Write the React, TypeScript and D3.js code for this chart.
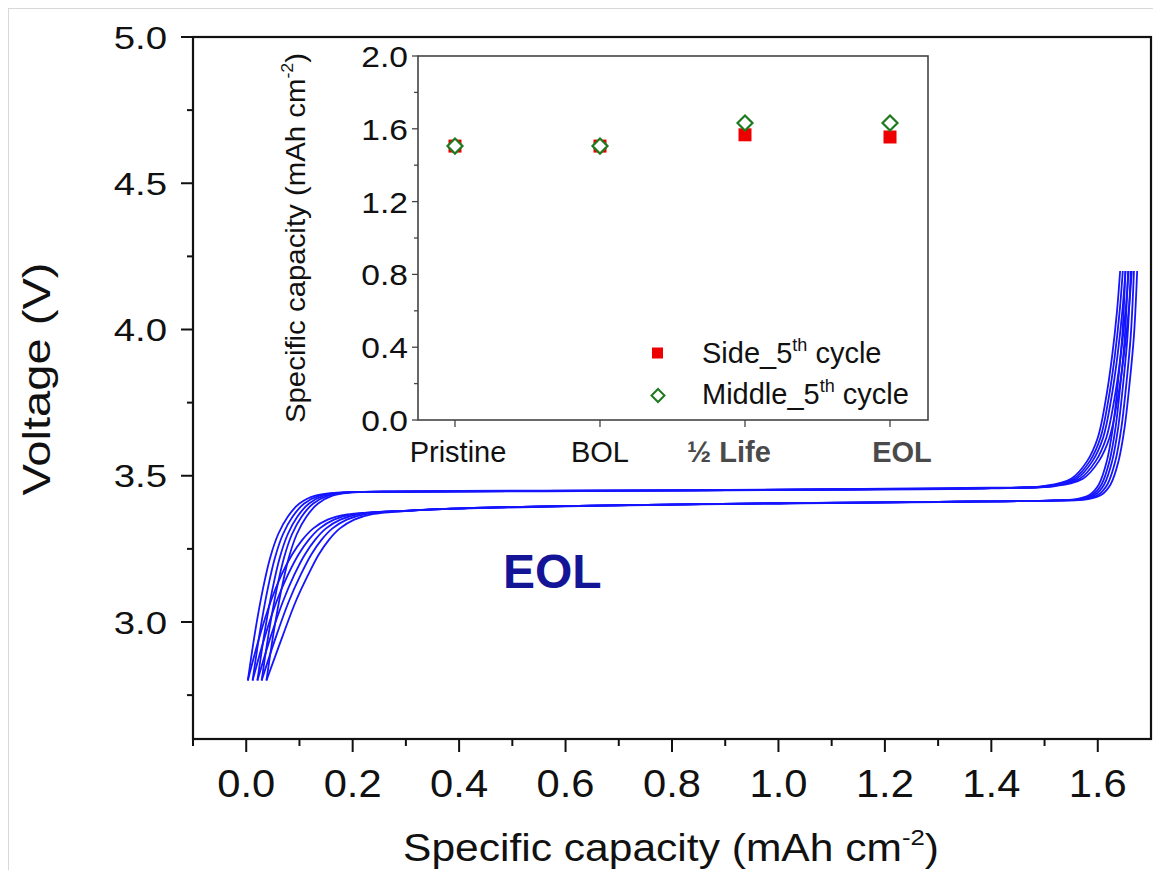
import React from "react";
import * as d3 from "d3";

// ---------- main chart data ----------
const xMajorTicks = [0, 0.2, 0.4, 0.6, 0.8, 1.0, 1.2, 1.4, 1.6];
const xMinorTicks = [-0.1, 0.1, 0.3, 0.5, 0.7, 0.9, 1.1, 1.3, 1.5];
const yMajorTicks = [3.0, 3.5, 4.0, 4.5, 5.0];
const yMinorTicks = [2.75, 3.25, 3.75, 4.25, 4.75];

type Pt = [number, number];

const charge1: Pt[] = [[0.003,2.80],[0.017,2.97],[0.031,3.11],[0.045,3.22],[0.060,3.30],[0.078,3.36],[0.100,3.405],[0.130,3.432],[0.170,3.442],[0.300,3.445],[0.700,3.448],[1.100,3.452],[1.400,3.457],[1.500,3.465],[1.550,3.490],[1.580,3.550],[1.600,3.630],[1.615,3.760],[1.627,3.910],[1.636,4.060],[1.642,4.200]];
const charge2: Pt[] = [[0.012,2.80],[0.026,2.97],[0.040,3.11],[0.054,3.22],[0.069,3.30],[0.087,3.36],[0.109,3.405],[0.138,3.432],[0.176,3.442],[0.300,3.446],[0.700,3.449],[1.100,3.453],[1.400,3.458],[1.505,3.465],[1.555,3.490],[1.585,3.550],[1.605,3.630],[1.620,3.760],[1.632,3.910],[1.641,4.060],[1.647,4.200]];
const charge3: Pt[] = [[0.021,2.80],[0.035,2.97],[0.049,3.11],[0.063,3.22],[0.078,3.30],[0.096,3.36],[0.118,3.405],[0.146,3.432],[0.182,3.442],[0.300,3.446],[0.700,3.449],[1.100,3.453],[1.400,3.458],[1.510,3.465],[1.560,3.490],[1.590,3.550],[1.610,3.630],[1.625,3.760],[1.637,3.910],[1.646,4.060],[1.652,4.200]];
const charge4: Pt[] = [[0.029,2.80],[0.043,2.97],[0.057,3.11],[0.071,3.22],[0.086,3.30],[0.104,3.36],[0.126,3.405],[0.154,3.432],[0.188,3.442],[0.300,3.446],[0.700,3.449],[1.100,3.453],[1.400,3.458],[1.515,3.465],[1.566,3.490],[1.596,3.550],[1.616,3.630],[1.631,3.760],[1.643,3.910],[1.652,4.060],[1.658,4.200]];
const charge5: Pt[] = [[0.038,2.80],[0.052,2.97],[0.066,3.11],[0.080,3.22],[0.095,3.30],[0.113,3.36],[0.135,3.405],[0.162,3.432],[0.195,3.442],[0.300,3.447],[0.700,3.450],[1.100,3.454],[1.400,3.459],[1.520,3.465],[1.572,3.490],[1.602,3.550],[1.622,3.630],[1.637,3.760],[1.649,3.910],[1.658,4.060],[1.664,4.200]];

const discharge1: Pt[] = [[0.003,2.80],[0.025,2.95],[0.046,3.07],[0.066,3.16],[0.086,3.23],[0.105,3.28],[0.126,3.32],[0.153,3.35],[0.190,3.368],[0.300,3.380],[0.450,3.390],[0.650,3.397],[1.000,3.405],[1.300,3.410],[1.500,3.415],[1.560,3.420],[1.585,3.435],[1.602,3.470],[1.617,3.550],[1.628,3.660],[1.638,3.820],[1.646,3.980],[1.652,4.200]];
const discharge2: Pt[] = [[0.012,2.80],[0.035,2.95],[0.057,3.07],[0.078,3.16],[0.098,3.23],[0.117,3.28],[0.138,3.32],[0.165,3.35],[0.200,3.368],[0.300,3.381],[0.450,3.391],[0.650,3.398],[1.000,3.406],[1.300,3.411],[1.505,3.415],[1.565,3.420],[1.590,3.435],[1.607,3.470],[1.622,3.550],[1.633,3.660],[1.643,3.820],[1.651,3.980],[1.657,4.200]];
const discharge3: Pt[] = [[0.021,2.80],[0.046,2.95],[0.069,3.07],[0.090,3.16],[0.110,3.23],[0.129,3.28],[0.150,3.32],[0.177,3.35],[0.210,3.368],[0.305,3.381],[0.450,3.391],[0.650,3.398],[1.000,3.406],[1.300,3.411],[1.510,3.415],[1.570,3.420],[1.595,3.435],[1.612,3.470],[1.627,3.550],[1.638,3.660],[1.648,3.820],[1.656,3.980],[1.662,4.200]];
const discharge4: Pt[] = [[0.029,2.80],[0.056,2.95],[0.080,3.07],[0.102,3.16],[0.122,3.23],[0.141,3.28],[0.162,3.32],[0.189,3.35],[0.222,3.368],[0.310,3.381],[0.450,3.391],[0.650,3.398],[1.000,3.406],[1.300,3.411],[1.515,3.415],[1.576,3.420],[1.601,3.435],[1.618,3.470],[1.633,3.550],[1.644,3.660],[1.654,3.820],[1.662,3.980],[1.668,4.200]];
const discharge5: Pt[] = [[0.038,2.80],[0.068,2.95],[0.093,3.07],[0.116,3.16],[0.136,3.23],[0.155,3.28],[0.176,3.32],[0.203,3.35],[0.235,3.368],[0.315,3.381],[0.450,3.391],[0.650,3.398],[1.000,3.406],[1.300,3.411],[1.520,3.415],[1.582,3.420],[1.607,3.435],[1.624,3.470],[1.639,3.550],[1.650,3.660],[1.660,3.820],[1.668,3.980],[1.674,4.200]];

const allCurves: Pt[][] = [charge1, charge2, charge3, charge4, charge5, discharge1, discharge2, discharge3, discharge4, discharge5];

// ---------- inset data ----------
const insetCategories = ["Pristine", "BOL", "\u00BD Life", "EOL"];
const sideCapacity = [1.505, 1.505, 1.567, 1.555];
const middleCapacity = [1.505, 1.505, 1.632, 1.632];
const insetYMajor = [0, 0.4, 0.8, 1.2, 1.6, 2.0];
const insetYMinor = [0.2, 0.6, 1.0, 1.4, 1.8];

const FONT = "'Liberation Sans', Arial, sans-serif";

export default function App() {
  // main scales
  const x = d3.scaleLinear().domain([-0.1, 1.7]).range([193, 1151]);
  const y = d3.scaleLinear().domain([2.6, 5.0]).range([739, 37]);
  const line = d3
    .line<Pt>()
    .x((d) => x(d[0]))
    .y((d) => y(d[1]))
    .curve(d3.curveCatmullRom.alpha(0.5));

  // inset scales
  const ix = d3.scaleLinear().domain([-0.255, 3.262]).range([418, 928]);
  const iy = d3.scaleLinear().domain([0, 2.0]).range([420, 56]);
  const fmt = d3.format(".1f");
  const labelDx = [3, 0, -16, 12];
  const diamond = (cx: number, cy: number, r: number) =>
    `M${cx},${cy - r}L${cx + r},${cy}L${cx},${cy + r}L${cx - r},${cy}Z`;

  return (
    <svg
      width={1153}
      height={870}
      style={{ position: "absolute", left: 0, top: 0, background: "#fff" }}
      fontFamily={FONT}
    >
      <rect x={0} y={0} width={1153} height={870} fill="#fff" />
      <rect x={8.5} y={8.5} width={1160} height={880} fill="none" stroke="#d8d8d8" strokeWidth={1} />

      {/* curves */}
      <g fill="none" stroke="#1414ff" strokeWidth={1.8}>
        {allCurves.map((c, i) => (
          <path key={i} d={line(c) || ""} />
        ))}
      </g>

      {/* main box */}
      <rect x={193} y={37} width={958} height={702} fill="none" stroke="#111" strokeWidth={2.2} />

      {/* x ticks */}
      <g stroke="#111" strokeWidth={2}>
        {xMajorTicks.map((t) => (
          <line key={"xM" + t} x1={x(t)} x2={x(t)} y1={739} y2={752} />
        ))}
        {xMinorTicks.map((t) => (
          <line key={"xm" + t} x1={x(t)} x2={x(t)} y1={739} y2={746} />
        ))}
        {yMajorTicks.map((t) => (
          <line key={"yM" + t} x1={181} x2={193} y1={y(t)} y2={y(t)} />
        ))}
        {yMinorTicks.map((t) => (
          <line key={"ym" + t} x1={187} x2={193} y1={y(t)} y2={y(t)} />
        ))}
      </g>
      <g fill="#111" fontSize={39}>
        {xMajorTicks.map((t) => (
          <text key={"xl" + t} transform={`translate(${x(t)},797) scale(1.07,1)`} textAnchor="middle">
            {fmt(t)}
          </text>
        ))}
      </g>
      <g fill="#111" fontSize={32}>
        {yMajorTicks.map((t) => (
          <text key={"yl" + t} transform={`translate(167,${y(t) + 11.5}) scale(1.2,1)`} textAnchor="end">
            {fmt(t)}
          </text>
        ))}
      </g>

      {/* axis titles */}
      <text transform="translate(671,861) scale(1.12,1)" textAnchor="middle" fontSize={38} fill="#111">
        Specific capacity (mAh cm
        <tspan fontSize={23} dy={-16}>-2</tspan>
        <tspan dy={16}>)</tspan>
      </text>
      <text transform="translate(50,379) rotate(-90) scale(1.24,1)" textAnchor="middle" fontSize={38} fill="#111">
        Voltage (V)
      </text>

      {/* EOL label */}
      <text x={503} y={588} fontSize={48} fontWeight="bold" fill="#141496">
        EOL
      </text>

      {/* ---------- inset ---------- */}
      <rect x={418} y={56} width={510} height={364} fill="#fff" stroke="#444" strokeWidth={1.6} />
      <g stroke="#444" strokeWidth={1.3}>
        {insetYMajor.map((t) => (
          <line key={"iyM" + t} x1={412} x2={418} y1={iy(t)} y2={iy(t)} />
        ))}
        {insetYMinor.map((t) => (
          <line key={"iym" + t} x1={414} x2={418} y1={iy(t)} y2={iy(t)} />
        ))}
        {insetCategories.map((c, i) => (
          <line key={"ix" + c} x1={ix(i)} x2={ix(i)} y1={420} y2={427} />
        ))}
      </g>
      <g fill="#111" fontSize={30}>
        {insetYMajor.map((t) => (
          <text key={"iyl" + t} transform={`translate(408,${iy(t) + 11}) scale(1.12,1)`} textAnchor="end">
            {fmt(t)}
          </text>
        ))}
      </g>
      <g fontSize={29}>
        {insetCategories.map((c, i) => (
          <text
            key={"icl" + c}
            x={ix(i) + labelDx[i]}
            y={462}
            textAnchor="middle"
            fontWeight={i >= 2 ? "bold" : "normal"}
            fill={i >= 2 ? "#4a4a4a" : "#111"}
          >
            {c}
          </text>
        ))}
      </g>
      <text transform="translate(305,238) rotate(-90) scale(1.05,1)" textAnchor="middle" fontSize={28} fill="#111">
        Specific capacity (mAh cm
        <tspan fontSize={17} dy={-12}>-2</tspan>
        <tspan dy={12}>)</tspan>
      </text>

      {/* markers */}
      {sideCapacity.map((v, i) => (
        <rect key={"sq" + i} x={ix(i) - 6.5} y={iy(v) - 6.5} width={13} height={13} fill="#ee0000" />
      ))}
      {middleCapacity.map((v, i) => (
        <path key={"dm" + i} d={diamond(ix(i), iy(v), 7.5)} fill="#fff" stroke="#1e7a1e" strokeWidth={2.2} />
      ))}

      {/* legend */}
      <rect x={652} y={347.5} width={11} height={11} fill="#ee0000" />
      <path d={diamond(658, 395.5, 6.5)} fill="#fff" stroke="#1e7a1e" strokeWidth={2} />
      <g fontSize={29} fill="#111">
        <text x={702} y={363}>
          Side_5<tspan fontSize={18} dy={-12}>th</tspan>
          <tspan dy={12}> cycle</tspan>
        </text>
        <text x={702} y={404}>
          Middle_5<tspan fontSize={18} dy={-12}>th</tspan>
          <tspan dy={12}> cycle</tspan>
        </text>
      </g>
    </svg>
  );
}
